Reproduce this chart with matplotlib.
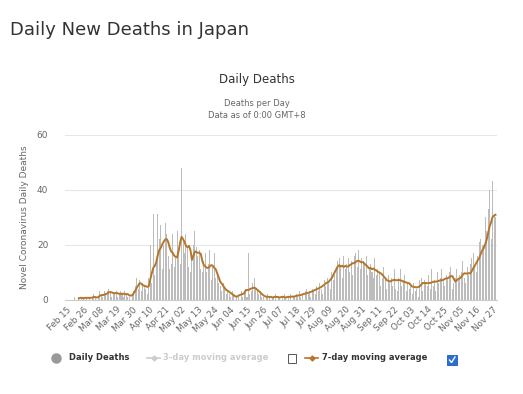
import pandas as pd
import matplotlib
matplotlib.use("Agg")
import matplotlib.pyplot as plt
from matplotlib.lines import Line2D
from matplotlib.patches import Rectangle

start_date = "2020-02-15"

# daily deaths, one value per day from Feb 15
daily_deaths = [
    0, 0, 0, 0, 0, 1, 0,
    0, 1, 0, 1, 1, 0, 1,
    0, 1, 0, 1, 2, 1, 0,
    1, 3, 2, 1, 3, 2, 3,
    4, 3, 1, 2, 2, 3, 1,
    2, 3, 2, 1, 3, 2, 1,
    1, 0, 2, 3, 5, 8, 4,
    7, 3, 6, 5, 4, 2, 8,
    20, 6, 31, 9, 15, 31, 22,
    27, 11, 20, 28, 24, 16, 11,
    13, 24, 12, 15, 25, 18, 13,
    48, 22, 17, 24, 19, 12, 10,
    15, 20, 25, 19, 16, 18, 11,
    10, 14, 17, 10, 13, 18, 7,
    12, 17, 8, 10, 6, 5, 3,
    6, 4, 2, 3, 2, 1, 3,
    2, 0, 1, 1, 0, 3, 1,
    2, 4, 1, 17, 2, 3, 6,
    8, 4, 3, 2, 3, 1, 1,
    0, 1, 2, 1, 0, 1, 1,
    2, 0, 1, 1, 0, 1, 2,
    1, 0, 1, 2, 0, 1, 1,
    2, 1, 3, 1, 2, 0, 3,
    4, 2, 3, 1, 4, 3, 2,
    5, 3, 6, 4, 2, 7, 5,
    8, 6, 4, 10, 7, 9, 12,
    14, 15, 12, 8, 16, 11, 13,
    15, 10, 14, 9, 16, 17, 12,
    18, 11, 15, 14, 13, 16, 9,
    12, 13, 10, 8, 15, 9, 11,
    10, 5, 8, 12, 7, 4, 9,
    6, 8, 5, 11, 4, 3, 8,
    11, 5, 7, 9, 3, 6, 4,
    5, 2, 6, 3, 4, 1, 7,
    8, 3, 7, 6, 5, 9, 4,
    11, 5, 7, 3, 10, 6, 8,
    11, 7, 5, 9, 8, 10, 12,
    4, 6, 8, 11, 7, 9, 10,
    14, 8, 6, 12, 9, 13, 15,
    17, 12, 10, 16, 21, 22, 20,
    20, 30, 25, 33, 40, 22, 43,
    31, 30,
]

# 7-day moving average as shown on the chart (None before it starts)
ma7 = [
    None, None, None, None, None, None, None, None,
    0.4, 0.6, 0.6, 0.4, 0.6, 0.6, 0.6, 0.6, 0.6, 0.7, 0.9, 0.9, 0.7, 0.9,
    1.3, 1.6, 1.6, 1.7, 2.0, 2.1,
    2.6, 2.7, 2.6, 2.4,
    2.3, 2.3, 2.3, 2.1, 2.0, 2.1, 2.1, 1.9, 2.0,
    1.9, 1.5, 1.4, 1.6,
    2.4, 3.3, 4.3, 5.2, 6.0, 5.7, 5.2, 5.0, 4.8, 4.6, 4.8,
    7.3, 9.5, 11.5, 12.2, 13.5, 16.0, 18.0, 18.7, 20.0, 21.0, 21.8, 22.0,
    21.0, 19.0, 17.5, 17.0, 16.0, 15.5, 15.3, 17.5, 20.5,
    22.8, 22.0, 21.0, 19.5, 19.0, 19.5, 18.0,
    14.4, 16.0, 17.5, 17.2, 17.0, 17.0, 16.5,
    14.0, 12.5, 12.0, 11.5, 11.5, 12.0, 12.5, 12.3, 11.5, 11.0, 9.5, 8.0, 6.5,
    5.8, 5.0, 4.2, 3.5, 3.2, 2.8, 2.4, 2.0, 1.6, 1.2,
    1.0, 1.3, 1.6, 1.8, 2.0, 2.2, 3.2,
    3.5, 3.4, 3.8, 4.0, 4.2, 4.3, 4.0, 3.5, 3.0, 2.5, 2.0,
    1.5, 1.2, 1.0,
    1.0, 0.9, 1.0, 0.7, 0.9, 1.0, 0.9, 0.9, 0.7, 0.9, 1.0, 0.9, 0.7, 0.9,
    1.0, 0.9, 1.1, 1.0, 1.1, 1.3, 1.4, 1.5,
    1.6, 1.8, 2.0, 2.1, 2.3, 2.4, 2.6, 2.8,
    3.0, 3.3, 3.5, 3.8, 4.0, 4.3, 4.6,
    5.0, 5.4, 5.9, 6.2, 6.5,
    7.2, 7.8, 8.9, 10.0, 11.0, 12.0, 12.5,
    12.0, 12.3, 11.8, 12.2, 12.0, 12.0, 12.5,
    12.8, 13.2, 13.2, 13.6, 14.0, 14.1, 13.8, 13.5,
    13.6, 13.0, 12.5, 12.0, 11.3, 11.5, 11.0,
    11.3, 10.8, 10.5, 10.1, 9.8, 9.5, 9.0,
    8.3, 7.7, 7.0, 6.8, 6.5, 6.8, 7.0,
    7.2, 7.0, 7.0, 7.1, 7.0, 6.8, 6.5,
    6.4, 6.2, 6.0, 5.9, 5.3, 4.7, 4.6,
    4.5, 4.4, 4.5, 4.8, 5.3, 6.0, 6.0,
    6.0, 5.9, 6.0, 6.0, 6.2, 6.4, 6.5,
    6.5, 6.6, 6.8, 7.0, 7.0, 7.2, 7.5,
    7.7, 7.8, 8.1, 8.5, 8.5, 7.5, 6.5,
    7.0, 7.5, 7.7, 8.2, 9.0, 9.5, 9.5,
    9.4, 9.6, 9.5, 10.3, 11.3, 12.2, 13.2,
    14.2, 15.0, 16.5, 17.8, 18.6, 20.0, 21.6,
    24.0, 26.5, 28.0, 30.0, 30.5, 30.8,
]

y_ticks = [0, 20, 40, 60]

W, H = 523, 394


def fx(px):
    return px / W


def fy(py):
    return 1 - py / H


dates = pd.date_range(start_date, periods=len(daily_deaths))
days = list(range(len(daily_deaths)))
ma_series = pd.Series(ma7, dtype=float)

fig = plt.figure(figsize=(W / 100, H / 100), dpi=100)
fig.patch.set_facecolor("white")
ax = fig.add_axes([fx(65), fy(299.5), fx(497) - fx(65), fy(134.5) - fy(299.5)])

ax.bar(days, daily_deaths, width=0.68, color="#bcbcbc", zorder=2)
ax.plot(days, ma_series, color="#b5762a", linewidth=1.4, zorder=3)

ax.set_xlim(-1.3, 289)
ax.set_ylim(0, 60)
ax.set_yticks(y_ticks)
ax.tick_params(axis="y", length=0, labelsize=6.5, labelcolor="#666666", pad=12)
ax.grid(axis="y", color="#e6e6e6", linewidth=0.8, zorder=0)

tick_idx = days[::11]
ax.set_xticks(tick_idx)
ax.set_xticklabels([dates[i].strftime("%b %d") for i in tick_idx],
                   rotation=45, ha="right", va="top", rotation_mode="anchor")
ax.tick_params(axis="x", length=0, labelsize=6.3, labelcolor="#666666", pad=4)

for side in ["top", "right", "left"]:
    ax.spines[side].set_visible(False)
ax.spines["bottom"].set_color("#cccccc")
ax.spines["bottom"].set_linewidth(0.8)

ax.set_ylabel("Novel Coronavirus Daily Deaths", fontsize=6.5, color="#666666")
ax.yaxis.set_label_coords(-0.083, 0.5)

# titles
fig.text(fx(10), fy(30), "Daily New Deaths in Japan", fontsize=13,
         color="#333333", va="center", ha="left")
fig.text(fx(257), fy(79), "Daily Deaths", fontsize=8.5, color="#333333",
         va="center", ha="center")
fig.text(fx(257), fy(104), "Deaths per Day", fontsize=6, color="#666666",
         va="center", ha="center")
fig.text(fx(257), fy(116), "Data as of 0:00 GMT+8", fontsize=6, color="#666666",
         va="center", ha="center")

# legend
ly = fy(358)
fig.add_artist(Line2D([fx(56)], [ly], marker="o", markersize=6.5,
                      color="#999999", transform=fig.transFigure))
fig.text(fx(69), ly, "Daily Deaths", fontsize=6, fontweight="bold",
         color="#333333", va="center", ha="left")

fig.add_artist(Line2D([fx(147), fx(160)], [ly, ly], color="#cccccc", lw=1.2,
                      transform=fig.transFigure))
fig.add_artist(Line2D([fx(153.5)], [ly], marker="D", markersize=2.5,
                      color="#cccccc", transform=fig.transFigure))
fig.text(fx(163), ly, "3-day moving average", fontsize=6, fontweight="bold",
         color="#cccccc", va="center", ha="left")
fig.add_artist(Rectangle((fx(288), fy(363)), fx(8), fy(354) - fy(363),
                         facecolor="white", edgecolor="#555555", lw=0.7,
                         transform=fig.transFigure))

fig.add_artist(Line2D([fx(305), fx(318)], [ly, ly], color="#b5762a", lw=1.2,
                      transform=fig.transFigure))
fig.add_artist(Line2D([fx(311.5)], [ly], marker="D", markersize=2.5,
                      color="#b5762a", transform=fig.transFigure))
fig.text(fx(322), ly, "7-day moving average", fontsize=6, fontweight="bold",
         color="#333333", va="center", ha="left")
fig.add_artist(Rectangle((fx(447), fy(365)), fx(10), fy(355) - fy(365),
                         facecolor="#2a6fd6", edgecolor="#1f5bb5", lw=0.6,
                         transform=fig.transFigure))
fig.add_artist(Line2D([fx(449.5), fx(451.5), fx(455)],
                      [fy(360), fy(362.5), fy(357)], color="white", lw=1.0,
                      transform=fig.transFigure))

fig.savefig("out.png", dpi=100)
